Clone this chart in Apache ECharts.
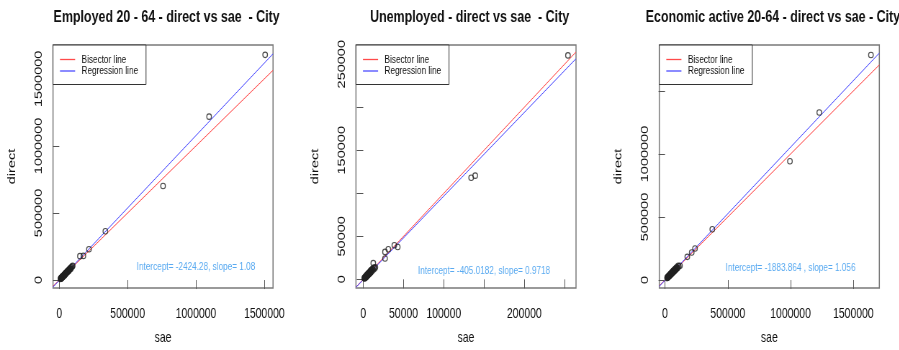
<!DOCTYPE html>
<html>
<head>
<meta charset="utf-8">
<script src="https://cdn.jsdelivr.net/npm/echarts@6/dist/echarts.min.js"></script>
<style>
  html, body { margin: 0; padding: 0; background: #fff; overflow: hidden; width: 899px; height: 350px; }
  /* the plots use a horizontally condensed look, so the canvas is squeezed along x */
  #chart { width: 1249px; height: 350px; transform: scaleX(0.72); transform-origin: 0 0; }
</style>
</head>
<body>
<div id="chart"></div>
<script>
// ---- panel titles ----
const panelTitles = [
  'Employed 20 - 64 - direct vs sae  - City',
  'Unemployed - direct vs sae  - City',
  'Economic active 20-64 - direct vs sae - City'
];

// ---- Employed 20-64: small-area estimate (sae) vs direct estimate ----
const saeEmployed = [
  8500, 10400, 11200, 12700, 13600, 14900, 15800, 16800, 17900, 19500, 20400, 21300,
  22600, 23400, 25100, 26300, 27600, 29300, 30600, 31800, 33500, 34800, 35900, 38200,
  39300, 40100, 42700, 44100, 45300, 47800, 49100, 50200, 52900, 54200, 55600, 58300,
  59700, 61200, 64100, 65900, 67500, 70800, 72600, 74300, 78600, 80900, 83200, 86100,
  88900, 94700,
  98000, 151000, 176000, 217000, 337000, 759000, 1096000, 1506000
];
const directEmployed = [
  7900, 11600, 12800, 11900, 12100, 16800, 17400, 15900, 16300, 21800, 19200, 20100,
  24700, 25900, 23300, 28600, 29800, 31900, 28400, 30200, 36400, 33100, 34700, 41300,
  37800, 43800, 41200, 47600, 49100, 46300, 52700, 54600, 51800, 58900, 60200, 57100,
  64300, 66800, 63500, 70100, 72400, 69900, 77800, 80100, 84700, 86200, 81500, 92400,
  95300, 101800,
  106000, 178000, 180000, 230000, 364000, 700600, 1218000, 1679000
];

// ---- Unemployed ----
const saeUnemployed = [
  1200, 1500, 1800, 2100, 2300, 2600, 2900, 3200, 3400, 3700, 3900, 4200, 4400, 4700,
  4900, 5100, 5300, 5600, 5800, 6000, 6200, 6500, 6700, 6900, 7100, 7400, 7600, 7900,
  8100, 8400, 8600, 8900, 9100, 9400, 9700, 10000, 10300, 10900, 11300, 11600, 12400,
  13200, 14100, 15000,
  12400, 27000, 27000, 31100, 38600, 42800, 134000, 139000, 254200
];
const directUnemployed = [
  1500, 1000, 1300, 2400, 2700, 1900, 2200, 3500, 3900, 2900, 3100, 4600, 4800, 3800,
  4100, 5600, 5900, 4700, 5000, 6500, 6800, 5600, 5900, 7400, 7700, 6500, 6800, 8300,
  8600, 7300, 7700, 9500, 9800, 8300, 8900, 10700, 10900, 9800, 11800, 12300, 11200,
  13600, 12700, 13900,
  18800, 24200, 31900, 35000, 39600, 37600, 118000, 120500, 260200
];

// ---- Economic active 20-64 ----
const saeActive = [
  16000, 18100, 19800, 21700, 23500, 25200, 26400, 28100, 29800, 31200, 32500, 34100,
  35700, 37300, 38900, 40500, 42100, 43900, 45600, 47200, 48900, 50600, 52300, 54100,
  55800, 57600, 59400, 61200, 63100, 65000, 66900, 68800, 70800, 72900, 74900, 77000,
  79200, 81500, 83800, 86200, 88600, 91100, 93700, 96400, 99100, 104800, 110200,
  119000, 177500, 212600, 239000, 376600, 995000, 1228500, 1640000
];
const directActive = [
  15200, 19400, 21500, 20300, 22100, 27100, 28700, 26200, 27600, 33600, 35400, 32100,
  33800, 40400, 42500, 38600, 40300, 47800, 49600, 45100, 46700, 54800, 56900, 51900,
  53600, 62200, 64700, 58700, 60800, 70400, 72600, 66100, 68400, 78900, 81300, 74200,
  76800, 87600, 90500, 83100, 86100, 97600, 100800, 93100, 96300, 112300, 107600,
  113000, 184000, 218800, 250000, 403000, 942000, 1329000, 1785000
];

// ---- fitted regression lines (direct = intercept + slope * sae) ----
const intercepts = [-2424.28, -405.0182, -1883.864];
const slopes = [1.08, 0.9718, 1.056];
const fitSeparators = [', ', ', ', ' , '];

// ---- where the fit summary is written, in data units ----
const noteAt = [[1000000, 100000], [150000, 10000], [1000000, 100000]];

// ---- axis ticks and the tick labels that are printed ----
const xTicks = [
  [0, 500000, 1000000, 1500000],
  [0, 50000, 100000, 150000, 200000, 250000],
  [0, 500000, 1000000, 1500000]
];
const xTickLabels = [
  [0, 500000, 1000000, 1500000],
  [0, 50000, 100000, 200000],
  [0, 500000, 1000000, 1500000]
];
const yTicks = [
  [0, 500000, 1000000, 1500000],
  [0, 50000, 100000, 150000, 200000, 250000],
  [0, 500000, 1000000, 1500000]
];
const yTickLabels = [
  [0, 500000, 1000000, 1500000],
  [0, 50000, 150000, 250000],
  [0, 500000, 1000000]
];

// ---- plotting ranges of each panel ----
const xLimits = [[-46100, 1563700], [-9070, 264200], [-45400, 1707000]];
const yLimits = [[-59400, 1752400], [-10070, 272300], [-63300, 1864600]];

const saeSets = [saeEmployed, saeUnemployed, saeActive];
const directSets = [directEmployed, directUnemployed, directActive];

const gridLefts = [73.6, 494.4, 915.7];
const gridWidth = 305.6;
const gridTop = 45;
const gridHeight = 244;

const FONT = 'Liberation Sans, Arial, Helvetica, sans-serif';
const TXT = '#111';
const RED = '#ff4a4a';
const BLUE = '#4d4dff';

const grids = [], xAxes = [], yAxes = [], series = [], titles = [], legends = [];

for (let i = 0; i < 3; i++) {
  grids.push({
    left: gridLefts[i], top: gridTop, width: gridWidth, height: gridHeight,
    show: true, borderColor: '#7a7a7a', borderWidth: 1.5, backgroundColor: 'transparent'
  });

  titles.push({
    text: panelTitles[i],
    left: gridLefts[i] + gridWidth / 2,
    textAlign: 'center',
    top: 4,
    textStyle: { fontFamily: FONT, fontWeight: 'bold', fontSize: 17.3, color: TXT }
  });

  xAxes.push({
    gridIndex: i, type: 'value',
    min: xLimits[i][0], max: xLimits[i][1],
    name: 'sae', nameLocation: 'middle', nameGap: 42,
    nameTextStyle: { fontFamily: FONT, fontSize: 14.5, color: TXT },
    axisLine: { show: false },
    splitLine: { show: false },
    axisTick: { show: true, inside: false, length: 9, customValues: xTicks[i],
                lineStyle: { color: '#555', width: 1 } },
    axisLabel: { customValues: xTickLabels[i], margin: 18,
                 fontFamily: FONT, fontSize: 14.5, color: TXT,
                 formatter: v => String(v) }
  });

  yAxes.push({
    gridIndex: i, type: 'value',
    min: yLimits[i][0], max: yLimits[i][1],
    name: 'direct', nameLocation: 'middle', nameGap: 49, nameRotate: 90,
    nameTextStyle: { fontFamily: FONT, fontSize: 14.5, color: TXT },
    axisLine: { show: false },
    splitLine: { show: false },
    axisTick: { show: true, inside: false, length: 9, customValues: yTicks[i],
                lineStyle: { color: '#555', width: 1 } },
    axisLabel: { customValues: yTickLabels[i], rotate: 90, margin: 12,
                 fontFamily: FONT, fontSize: 14.5, color: TXT,
                 formatter: v => String(v) }
  });

  // observed points
  series.push({
    type: 'scatter', xAxisIndex: i, yAxisIndex: i,
    data: saeSets[i].map((s, k) => [s, directSets[i][k]]),
    symbol: 'circle', symbolSize: [6.5, 5.5],
    itemStyle: { color: 'rgba(0,0,0,0)', borderColor: '#222', borderWidth: 1.2 },
    silent: true, z: 3
  });

  const x0 = xLimits[i][0], x1 = xLimits[i][1];

  // bisector y = x across the panel
  series.push({
    type: 'line', name: 'Bisector line', xAxisIndex: i, yAxisIndex: i,
    data: [[x0, x0], [x1, x1]],
    symbol: 'none', clip: true,
    lineStyle: { color: RED, width: 1 }, itemStyle: { color: RED },
    silent: true, z: 2
  });

  // regression line from the fitted intercept and slope
  series.push({
    type: 'line', name: 'Regression line', xAxisIndex: i, yAxisIndex: i,
    data: [[x0, intercepts[i] + slopes[i] * x0], [x1, intercepts[i] + slopes[i] * x1]],
    symbol: 'none', clip: true,
    lineStyle: { color: BLUE, width: 1 }, itemStyle: { color: BLUE },
    silent: true, z: 2
  });

  // fit summary text
  series.push({
    type: 'scatter', xAxisIndex: i, yAxisIndex: i,
    data: [noteAt[i]], symbol: 'circle', symbolSize: 1,
    itemStyle: { color: 'rgba(0,0,0,0)' },
    silent: true, z: 4,
    label: {
      show: true, position: 'inside',
      formatter: 'Intercept= ' + intercepts[i] + fitSeparators[i] + 'slope= ' + slopes[i],
      fontFamily: FONT, fontSize: 11.4, color: '#2f95ee'
    }
  });

  legends.push({
    left: gridLefts[i], top: gridTop,
    orient: 'vertical',
    data: ['Bisector line', 'Regression line'],
    selectedMode: false,
    icon: 'rect',
    padding: [9, 11, 8, 9.7],
    itemWidth: 21, itemHeight: 1.3, itemGap: 0.5,
    backgroundColor: '#fff', borderColor: '#333', borderWidth: 1,
    textStyle: { fontFamily: FONT, fontSize: 11.4, color: TXT, padding: [0, 0, 0, 4] }
  });
}

const chart = echarts.init(document.getElementById('chart'), null, { renderer: 'canvas' });
chart.setOption({
  animation: false,
  backgroundColor: '#fff',
  title: titles,
  legend: legends,
  grid: grids,
  xAxis: xAxes,
  yAxis: yAxes,
  series: series
});
</script>
</body>
</html>
